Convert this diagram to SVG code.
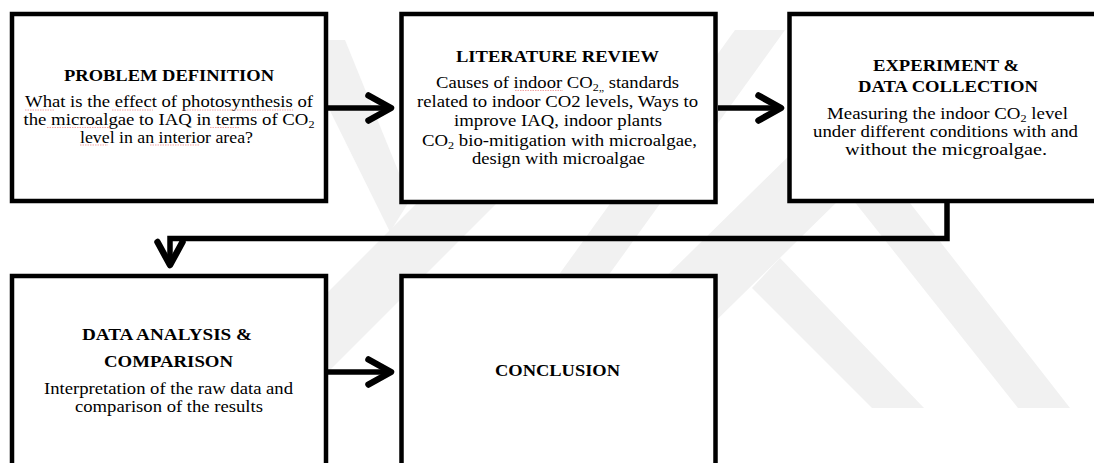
<svg xmlns="http://www.w3.org/2000/svg" width="1094" height="463" viewBox="0 0 1094 463">
<style>
.box{fill:#fff;stroke:#000;stroke-width:4.5}
.t{font-family:"Liberation Serif","Times New Roman",serif;font-weight:bold;font-size:17px;fill:#000;text-anchor:middle}
.b{font-family:"Liberation Serif","Times New Roman",serif;font-size:17px;fill:#000;text-anchor:middle}
.sub{font-size:11px}
.ln{fill:none;stroke:#000;stroke-width:5.5}
.hd{fill:none;stroke:#000;stroke-width:6.5;stroke-linecap:round;stroke-linejoin:round}
.wm{fill:#f1f1f1}
.sq{fill:none;stroke:#f2a5a5;stroke-width:1;stroke-dasharray:1.5 1}
</style>
<defs>
<clipPath id="wmclip"><rect x="0" y="0" width="1094" height="408"/></clipPath>
</defs>
<rect width="1094" height="463" fill="#fff"/>
<g id="watermark" clip-path="url(#wmclip)">
<polygon class="wm" points="470,150 550,150 292,408 212,408"/>
<polygon class="wm" points="735,30 785,30 513,408 463,408"/>
<polygon class="wm" points="800,145 895,145 627,408 532,408"/>
<polygon class="wm" points="823,162 878,162 1070,408 1018,408"/>
<polygon class="wm" points="780,258 752,288 872,408 924,408"/>
<polygon class="wm" points="295,40 345,40 410,200 390,232"/>
</g>
<g id="n1">
<rect class="box" x="12" y="14" width="314" height="187"/>
<text class="t" x="169" y="81" textLength="210" lengthAdjust="spacingAndGlyphs">PROBLEM DEFINITION</text>
<text class="b" x="169" y="107" textLength="288" lengthAdjust="spacingAndGlyphs">What is the effect of photosynthesis of</text>
<text class="b" x="169" y="124.5" textLength="291" lengthAdjust="spacingAndGlyphs">the microalgae to IAQ in terms of CO<tspan class="sub" dy="3">2</tspan></text>
<text class="b" x="166.5" y="142.5" textLength="173" lengthAdjust="spacingAndGlyphs">level in an interior area?</text>
<path class="sq" d="M25,110H55M112,110H153M182,110H293M47,127.5H110M210,127.5H240M80,145H108M150,145H200"/>
</g>
<g id="n2">
<rect class="box" x="401.5" y="14" width="314" height="188"/>
<text class="t" x="557.5" y="62" textLength="203" lengthAdjust="spacingAndGlyphs">LITERATURE REVIEW</text>
<text class="b" x="557.5" y="88" textLength="243" lengthAdjust="spacingAndGlyphs">Causes of indoor CO<tspan class="sub" dy="3">2„</tspan><tspan dy="-3">  standards</tspan></text>
<text class="b" x="557.5" y="107" textLength="281" lengthAdjust="spacingAndGlyphs">related to indoor CO2 levels, Ways to</text>
<text class="b" x="558" y="126" textLength="208" lengthAdjust="spacingAndGlyphs">improve IAQ, indoor plants</text>
<text class="b" x="559.5" y="146" textLength="275" lengthAdjust="spacingAndGlyphs">CO<tspan class="sub" dy="3">2</tspan><tspan dy="-3"> bio-mitigation with microalgae,</tspan></text>
<text class="b" x="558.5" y="164" textLength="173" lengthAdjust="spacingAndGlyphs">design with microalgae</text>
<path class="sq" d="M515,90.5H563"/>
</g>
<g id="n3">
<rect class="box" x="789.5" y="14" width="316" height="187"/>
<text class="t" x="946" y="71" textLength="146" lengthAdjust="spacingAndGlyphs">EXPERIMENT &amp;</text>
<text class="t" x="948" y="91.5" textLength="180" lengthAdjust="spacingAndGlyphs">DATA COLLECTION</text>
<text class="b" x="947.5" y="119" textLength="241" lengthAdjust="spacingAndGlyphs">Measuring the indoor CO<tspan class="sub" dy="3">2</tspan><tspan dy="-3"> level</tspan></text>
<text class="b" x="945.5" y="137.3" textLength="265" lengthAdjust="spacingAndGlyphs">under different conditions with and</text>
<text class="b" x="946" y="155.3" textLength="202" lengthAdjust="spacingAndGlyphs">without the micgroalgae.</text>
</g>
<g id="n4">
<rect class="box" x="12" y="276" width="314" height="200"/>
<text class="t" x="167" y="340" textLength="170" lengthAdjust="spacingAndGlyphs">DATA ANALYSIS &amp;</text>
<text class="t" x="168.5" y="366.7" textLength="129" lengthAdjust="spacingAndGlyphs">COMPARISON</text>
<text class="b" x="168.5" y="394" textLength="249" lengthAdjust="spacingAndGlyphs">Interpretation of the raw data and</text>
<text class="b" x="169" y="412" textLength="188" lengthAdjust="spacingAndGlyphs">comparison of the results</text>
</g>
<g id="n5">
<rect class="box" x="401.5" y="276" width="314" height="200"/>
<text class="t" x="557.5" y="376" textLength="125" lengthAdjust="spacingAndGlyphs">CONCLUSION</text>
</g>
<g id="connectors">
<line class="ln" x1="328" y1="108" x2="390" y2="108"/>
<polyline class="hd" points="368.5,95.5 391,108 368.5,120.5"/>
<line class="ln" x1="718" y1="108" x2="780" y2="108"/>
<polyline class="hd" points="758.5,95.5 781,108 758.5,120.5"/>
<line class="ln" x1="328" y1="372" x2="390" y2="372"/>
<polyline class="hd" points="368.5,359.5 391,372 368.5,384.5"/>
<polyline class="ln" points="947,203 947,238.5 170,238.5 170,264"/>
<polyline class="hd" points="157.5,242 170,265 182.5,242"/>
</g>
</svg>
